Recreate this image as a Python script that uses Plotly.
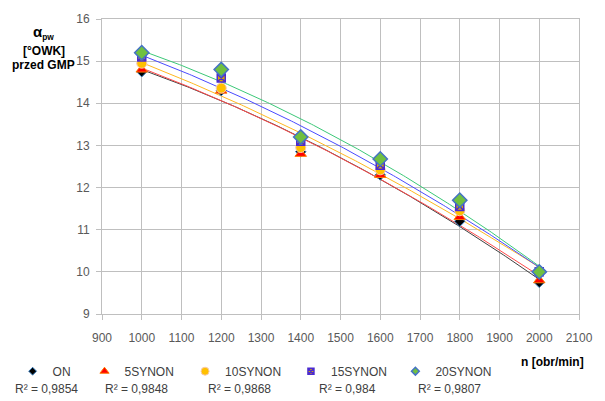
import numpy as np
import plotly.graph_objects as go

n_rpm = [1000, 1200, 1400, 1600, 1800, 2000]
series_names = ["ON", "5SYNON", "10SYNON", "15SYNON", "20SYNON"]
on_vals = [14.75, 14.3, 12.85, 12.3, 11.2, 9.75]
s5_vals = [14.8, 14.3, 12.8, 12.3, 11.3, 9.8]
s10_vals = [14.95, 14.36, 12.95, 12.42, 11.45, 10.0]
s15_vals = [15.1, 14.6, 13.1, 12.53, 11.55, 10.0]
s20_vals = [15.2, 14.8, 13.2, 12.68, 11.7, 10.0]
r2_labels = ["R² = 0,9854", "R² = 0,9848", "R² = 0,9868", "R² = 0,984", "R² = 0,9807"]
x_ticks = list(range(900, 2101, 100))
y_ticks = list(range(9, 17))

values = [on_vals, s5_vals, s10_vals, s15_vals, s20_vals]
line_colors = ["#404040", "#FF4A4A", "#FFB820", "#4A4AFF", "#3CC878"]
symbols = ["diamond", "triangle-up", "circle", "square-x", "diamond"]
fills = ["#000000", "#FF0000", "#FFC000", "#D8A800", "#70C040"]
edges = ["#2E75B6", "#FF7A00", "#F8CBAD", "#4B2BD0", "#4472C4"]
edge_w = [1, 1, 1, 1.5, 1.5]
plot_sizes = [8, 10, 10, 8, 11]
legend_sizes = [6, 8, 8, 6, 6]
FONT = "Liberation Sans, Arial, sans-serif"

W, H = 605, 401
pl, pr, pt, pb = 97, 17, 15, 87
pw, ph = W - pl - pr, H - pt - pb
def px(xp):
    return (xp - pl) / pw
def py(yp):
    return (H - pb - yp) / ph

legend_text_x = [41, 115, 218, 328, 433]
legend_marker_x = [33, 107, 211, 319, 429]
r2_x = [40, 133, 239, 350, 455]

fig = go.Figure()
xs = np.linspace(1000, 2000, 200)
for i, name in enumerate(series_names):
    coef = np.polyfit(n_rpm, values[i], 2)
    fig.add_trace(go.Scatter(x=xs, y=np.polyval(coef, xs), mode="lines",
                             line=dict(color=line_colors[i], width=1),
                             showlegend=False, hoverinfo="skip"))
for i, name in enumerate(series_names):
    fig.add_trace(go.Scatter(x=n_rpm, y=values[i], mode="markers", name=name,
                             marker=dict(symbol=symbols[i], size=plot_sizes[i], color=fills[i],
                                         line=dict(color=edges[i], width=edge_w[i])),
                             showlegend=False))
for i, name in enumerate(series_names):
    leg = "legend" if i == 0 else f"legend{i+1}"
    fig.add_trace(go.Scatter(x=[None], y=[None], mode="markers", name=name,
                             marker=dict(symbol=symbols[i], size=legend_sizes[i], color=fills[i],
                                         line=dict(color=edges[i], width=edge_w[i])),
                             legend=leg, hoverinfo="skip"))

layout_legends = {}
for i in range(5):
    key = "legend" if i == 0 else f"legend{i+1}"
    lx = ((legend_text_x[i] - 42) + (legend_marker_x[i] - 22)) / 2
    layout_legends[key] = dict(x=px(lx), y=py(372), xref="paper", yref="paper",
                               xanchor="left", yanchor="middle", orientation="h",
                               bgcolor="rgba(0,0,0,0)", itemwidth=30,
                               font=dict(family=FONT, size=12, color="#404040"))

fig.update_layout(
    width=W, height=H,
    margin=dict(l=pl, r=pr, t=pt, b=pb),
    plot_bgcolor="white", paper_bgcolor="white",
    font=dict(family=FONT, size=12, color="#595959"),
    **layout_legends,
)

for i in range(5):
    fig.add_annotation(x=px(r2_x[i]), y=py(390), xref="paper", yref="paper", text=r2_labels[i],
                       showarrow=False, xanchor="center", yanchor="middle",
                       font=dict(family=FONT, size=12, color="#404040"))
y_title_lines = ["<b><span style='font-size:15px'>α</span><sub>pw</sub></b>",
                 "<b>[°OWK]</b>", "<b>przed GMP</b>"]
y_title_y = [29, 47, 62]
for t, yy in zip(y_title_lines, y_title_y):
    fig.add_annotation(x=px(37), y=py(yy), xref="paper", yref="paper", text=t,
                       showarrow=False, xanchor="center", yanchor="middle",
                       font=dict(family=FONT, size=12, color="#000000"))
fig.add_annotation(x=px(595), y=py(363), xref="paper", yref="paper",
                   text="<b>n [obr/min]</b>", showarrow=False, xanchor="right", yanchor="middle",
                   font=dict(family=FONT, size=12, color="#000000"))

fig.update_xaxes(range=[900, 2100], tickvals=x_ticks, showgrid=True, gridcolor="#BFBFBF",
                 gridwidth=1, zeroline=False, showline=True, linecolor="#BFBFBF",
                 ticks="outside", ticklen=5, tickcolor="#BFBFBF", mirror=True,
                 ticklabelstandoff=8,
                 tickfont=dict(family=FONT, size=12, color="#595959"))
fig.update_yaxes(range=[9, 16], tickvals=y_ticks, showgrid=True, gridcolor="#BFBFBF",
                 gridwidth=1, zeroline=False, showline=True, linecolor="#BFBFBF",
                 ticks="outside", ticklen=5, tickcolor="#BFBFBF", mirror=True,
                 ticklabelstandoff=4,
                 tickfont=dict(family=FONT, size=12, color="#595959"))

fig.write_html("out.html")
